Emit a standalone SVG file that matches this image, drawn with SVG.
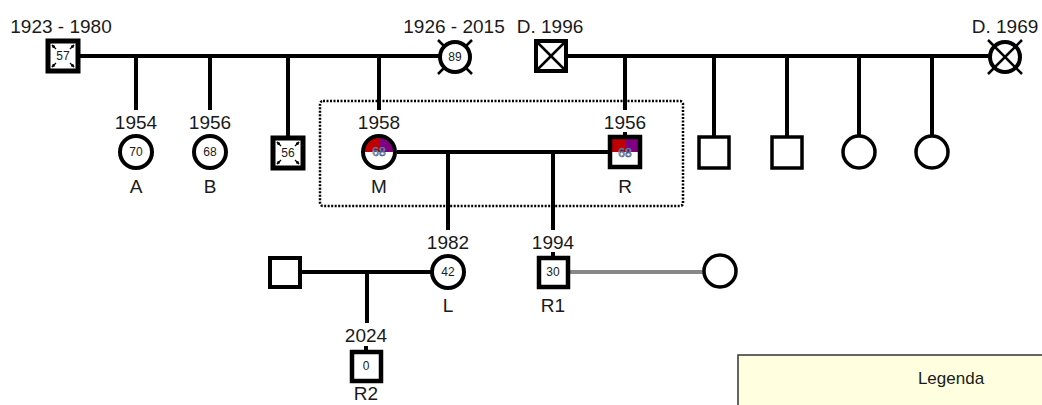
<svg xmlns="http://www.w3.org/2000/svg" width="1042" height="405" viewBox="0 0 1042 405">
<defs>
<style>
.t{font-family:"Liberation Sans",Arial,sans-serif;font-size:19px;fill:#1a1a1a;text-anchor:middle}
.n{font-family:"Liberation Sans",Arial,sans-serif;font-size:12px;fill:#1a1a1a;text-anchor:middle}
.ln{stroke:#000;stroke-width:4;fill:none}
.sym{stroke:#000;stroke-width:4;fill:#fff}
.x{stroke:#000;stroke-width:2.5}
.tick{stroke:#000;stroke-width:1.3}
</style>
<marker id="ah" viewBox="0 0 6 6" refX="5" refY="3" markerWidth="3" markerHeight="3" orient="auto"><path d="M0,0 L6,3 L0,6 Z" fill="#000"/></marker>
</defs>
<rect width="1042" height="405" fill="#fff"/>

<g id="connectors">
<line class="ln" x1="80" y1="56" x2="440" y2="56"/>
<line class="ln" x1="136" y1="54" x2="136" y2="110"/>
<line class="ln" x1="210" y1="54" x2="210" y2="110"/>
<line class="ln" x1="288" y1="54" x2="288" y2="137"/>
<line class="ln" x1="379" y1="54" x2="379" y2="110"/>
<line class="ln" x1="568" y1="56" x2="990" y2="56"/>
<line class="ln" x1="625" y1="54" x2="625" y2="110"/>
<line class="ln" x1="714" y1="54" x2="714" y2="137"/>
<line class="ln" x1="787" y1="54" x2="787" y2="137"/>
<line class="ln" x1="859" y1="54" x2="859" y2="136"/>
<line class="ln" x1="932" y1="54" x2="932" y2="136"/>
<line class="ln" x1="397" y1="152" x2="609" y2="152"/>
<line class="ln" x1="448" y1="150" x2="448" y2="230"/>
<line class="ln" x1="553" y1="150" x2="553" y2="230"/>
<line class="ln" x1="625" y1="132" x2="625" y2="137"/>
<line class="ln" x1="302" y1="272" x2="431" y2="272"/>
<line class="ln" x1="367" y1="270" x2="367" y2="323"/>
<line class="ln" x1="553" y1="252" x2="553" y2="257"/>
<line class="ln" x1="366" y1="346" x2="366" y2="351"/>
<line x1="570" y1="272" x2="703" y2="272" stroke="#888" stroke-width="4"/>
<rect x="320" y="101" width="363" height="105" rx="3" fill="none" stroke="#000" stroke-width="2.5" stroke-dasharray="2 1.5"/>
</g>

<g id="n1923">
<text class="t" x="61" y="33">1923 - 1980</text>
<rect x="48" y="41" width="30" height="30" fill="#fff" stroke="#000" stroke-width="5"/>
<line class="tick" x1="56" y1="49" x2="52" y2="45" marker-end="url(#ah)"/>
<line class="tick" x1="70" y1="49" x2="74" y2="45" marker-end="url(#ah)"/>
<line class="tick" x1="56" y1="63" x2="52" y2="67" marker-end="url(#ah)"/>
<line class="tick" x1="70" y1="63" x2="74" y2="67" marker-end="url(#ah)"/>
<text class="n" x="63" y="60">57</text>
</g>

<g id="n1926">
<text class="t" x="454" y="33">1926 - 2015</text>
<line class="x" x1="438" y1="40" x2="472" y2="74"/>
<line class="x" x1="472" y1="40" x2="438" y2="74"/>
<circle class="sym" cx="455" cy="57" r="15"/>
<text class="n" x="455" y="61">89</text>
</g>

<g id="nD1996">
<text class="t" x="550" y="33">D. 1996</text>
<rect class="sym" x="536" y="41" width="30" height="30"/>
<line class="x" x1="538" y1="43" x2="564" y2="69"/>
<line class="x" x1="564" y1="43" x2="538" y2="69"/>
</g>

<g id="nD1969">
<text class="t" x="1005" y="33">D. 1969</text>
<circle class="sym" cx="1005" cy="57" r="15"/>
<line class="x" x1="988" y1="40" x2="1022" y2="74"/>
<line class="x" x1="1022" y1="40" x2="988" y2="74"/>
</g>

<g id="nA">
<text class="t" x="136" y="129">1954</text>
<circle class="sym" cx="136" cy="152" r="16"/>
<text class="n" x="136" y="156">70</text>
<text class="t" x="136" y="193">A</text>
</g>

<g id="nB">
<text class="t" x="210" y="129">1956</text>
<circle class="sym" cx="210" cy="152" r="16"/>
<text class="n" x="210" y="156">68</text>
<text class="t" x="210" y="193">B</text>
</g>

<g id="n56">
<rect x="273" y="138" width="30" height="30" fill="#fff" stroke="#000" stroke-width="5"/>
<line class="tick" x1="281" y1="146" x2="277" y2="142" marker-end="url(#ah)"/>
<line class="tick" x1="295" y1="146" x2="299" y2="142" marker-end="url(#ah)"/>
<line class="tick" x1="281" y1="160" x2="277" y2="164" marker-end="url(#ah)"/>
<line class="tick" x1="295" y1="160" x2="299" y2="164" marker-end="url(#ah)"/>
<text class="n" x="288" y="157">56</text>
</g>

<g id="nM">
<text class="t" x="379" y="129">1958</text>
<circle cx="379" cy="152" r="15" fill="#fff"/>
<path d="M379,152 L364,152 A15,15 0 0 1 379,137 Z" fill="#c00000"/>
<path d="M379,152 L379,137 A15,15 0 0 1 394,152 Z" fill="#800080"/>
<circle cx="379" cy="152" r="16" fill="none" stroke="#000" stroke-width="4"/>
<text class="n" x="379" y="156" style="fill:#fff;stroke:#3a5a8a;stroke-width:0.7">68</text>
<text class="t" x="379" y="193">M</text>
</g>

<g id="nR">
<text class="t" x="625" y="129">1956</text>
<rect x="610" y="137" width="30" height="30" fill="#fff"/>
<rect x="610" y="137" width="15" height="15" fill="#c00000"/>
<rect x="625" y="137" width="15" height="15" fill="#800080"/>
<rect x="610" y="137" width="30" height="30" fill="none" stroke="#000" stroke-width="4.5"/>
<text class="n" x="625" y="157" style="fill:#fff;stroke:#3a5a8a;stroke-width:0.7">68</text>
<text class="t" x="625" y="193">R</text>
</g>

<g id="nS1">
<rect x="699" y="137" width="30" height="31" fill="#fff" stroke="#000" stroke-width="3.5"/>
</g>
<g id="nS2">
<rect x="772" y="137" width="30" height="31" fill="#fff" stroke="#000" stroke-width="3.5"/>
</g>
<g id="nD1">
<circle cx="859" cy="152" r="16" fill="#fff" stroke="#000" stroke-width="3.5"/>
</g>
<g id="nD2">
<circle cx="932" cy="152" r="16" fill="#fff" stroke="#000" stroke-width="3.5"/>
</g>

<g id="nLspouse">
<rect class="sym" x="270" y="258" width="30" height="29"/>
</g>

<g id="nL">
<text class="t" x="448" y="249">1982</text>
<circle class="sym" cx="448" cy="272" r="16"/>
<text class="n" x="448" y="276">42</text>
<text class="t" x="448" y="312">L</text>
</g>

<g id="nR1">
<text class="t" x="553" y="249">1994</text>
<rect x="539" y="258" width="29" height="29" fill="#fff" stroke="#000" stroke-width="4.5"/>
<text class="n" x="553" y="276">30</text>
<text class="t" x="553" y="312">R1</text>
</g>

<g id="nR1partner">
<circle cx="720" cy="271" r="16" fill="#fff" stroke="#000" stroke-width="3.5"/>
</g>

<g id="nR2">
<text class="t" x="366" y="342">2024</text>
<rect x="352" y="352" width="29" height="29" fill="#fff" stroke="#000" stroke-width="4.5"/>
<text class="n" x="366" y="370">0</text>
<text class="t" x="366" y="400">R2</text>
</g>

<g id="legend">
<rect x="738" y="355" width="310" height="60" fill="#ffffe0" stroke="#333" stroke-width="1.5"/>
<text x="951" y="384" font-family="'Liberation Sans',Arial,sans-serif" font-size="17" fill="#1a1a1a" text-anchor="middle">Legenda</text>
</g>
</svg>
